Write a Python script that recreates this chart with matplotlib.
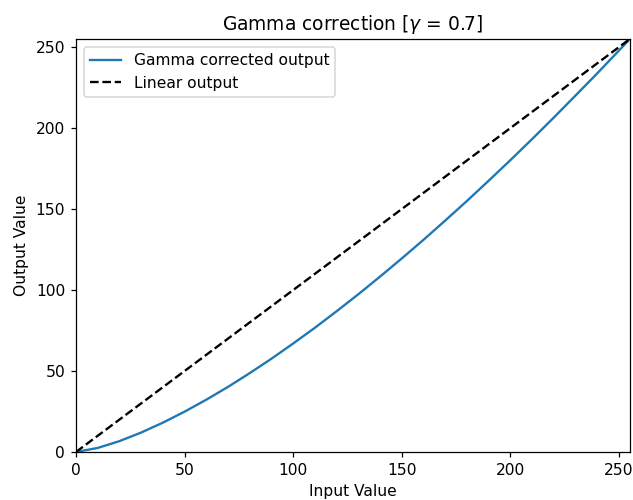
import matplotlib
matplotlib.use('Agg')
import matplotlib.pyplot as plt

# Values
input_values = [0, 10, 20, 30, 40, 50, 60, 70, 80, 90, 100, 110, 120, 130, 140,
                150, 160, 170, 180, 190, 200, 210, 220, 230, 240, 250, 255]
gamma_output = [0, 2.5, 6.7, 12.0, 18.1, 24.9, 32.3, 40.2, 48.7, 57.6, 67.0, 76.7,
                86.9, 97.4, 108.3, 119.5, 131.0, 142.9, 155.0, 167.5, 180.2, 193.2,
                206.5, 220.1, 233.8, 247.9, 255]
linear_input = [0, 255]
linear_output = [0, 255]

# reference looks like it was rendered at a bit over 100 dpi
dpi = 112
fig = plt.figure(figsize=(633 / dpi, 500 / dpi), dpi=dpi)
ax = fig.add_axes([0.120, 0.096, 0.875, 0.826])

ax.plot(input_values, gamma_output, label='Gamma corrected output')
ax.plot(linear_input, linear_output, 'k--', label='Linear output')

ax.set_xlim(0, 255)
ax.set_ylim(0, 255)
ax.set_title(r'Gamma correction [$\gamma$ = 0.7]')
ax.set_xlabel('Input Value')
ax.set_ylabel('Output Value')
ax.legend(loc='upper left')

fig.savefig('out.png', dpi=dpi)
